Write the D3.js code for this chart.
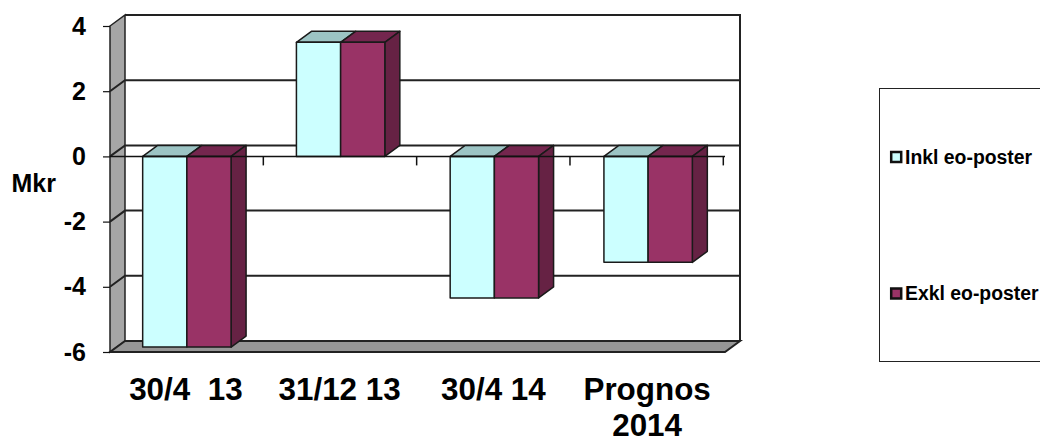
<!DOCTYPE html>
<html>
<head>
<meta charset="UTF-8">
<title>Mkr</title>
<script src="https://d3js.org/d3.v7.min.js"></script>
<style>
    body { margin: 0; background: #fff; }
    svg { display: block; }
    text { font-family: "Liberation Sans", Arial, sans-serif; font-weight: bold; fill: #000; }
</style>
</head>
<body>
<svg id="chart" width="1040" height="440"></svg>
<script>
// data
const categories = ["30/4  13", "31/12 13", "30/4 14", "Prognos 2014"];
const seriesNames = ["Inkl eo-poster", "Exkl eo-poster"];
const inkl = [-5.85, 3.5, -4.34, -3.25];
const exkl = [-5.85, 3.5, -4.34, -3.25];
const yTicks = [4, 2, 0, -2, -4, -6];

// colours per series: front, top, side
const fronts = ["#ccffff", "#993366"];
const tops = ["#9cc4c4", "#74264e"];
const sides = ["#9cc4c4", "#662244"];

const svg = d3.select("#chart");

// the 3d box is offset up and to the right
const depthX = 15, depthY = -11;
const left = 110, right = 725, lineCol = "#222";

const x = d3.scaleBand().domain(categories).range([left, right]).paddingInner(0.425).paddingOuter(0.2125);
const xs = d3.scaleBand().domain(seriesNames).range([0, x.bandwidth()]);
const y = d3.scaleLinear().domain([-6, 4]).range([352, 26]);
const xTick = d3.scaleLinear().domain([0, categories.length]).range([left, 723.3]);

const pts = a => a.map(p => p.join(",")).join(" ");

// left wall
svg.append("polygon")
    .attr("points", pts([[left, y(4)], [left + depthX, y(4) + depthY], [left + depthX, y(-6) + depthY], [left, y(-6)]]))
    .attr("fill", "#a6a6a6").attr("stroke", lineCol).attr("stroke-width", 1.5);

// floor
svg.append("polygon")
    .attr("points", pts([[left, y(-6)], [right, y(-6)], [right + depthX, y(-6) + depthY], [left + depthX, y(-6) + depthY]]))
    .attr("fill", "#969696").attr("stroke", lineCol).attr("stroke-width", 2);

// back wall frame and gridlines
svg.append("path")
    .attr("d", `M${left + depthX},${y(4) + depthY}H${right + depthX}V${y(-6) + depthY}`)
    .attr("fill", "none").attr("stroke", lineCol).attr("stroke-width", 2);

svg.selectAll(".grid").data(yTicks.filter(d => d > -6 && d < 4)).join("path")
    .attr("class", "grid")
    .attr("d", d => `M${left},${y(d)}L${left + depthX},${y(d) + depthY}H${right + depthX}`)
    .attr("fill", "none").attr("stroke", lineCol).attr("stroke-width", 2);

// bars
const rows = categories.flatMap((c, i) => [
    { cat: c, s: 0, name: seriesNames[0], v: inkl[i] },
    { cat: c, s: 1, name: seriesNames[1], v: exkl[i] }
]);

const bars = svg.selectAll(".bar").data(rows).join("g").attr("class", "bar")
    .attr("stroke", "#1a1a1a").attr("stroke-width", 1.5).attr("stroke-linejoin", "round");

const bx = d => x(d.cat) + xs(d.name);
const bw = xs.bandwidth();
const yTop = d => y(Math.max(0, d.v));
const yBot = d => y(Math.min(0, d.v));

bars.append("polygon") // top
    .attr("fill", d => tops[d.s])
    .attr("points", d => pts([[bx(d), yTop(d)], [bx(d) + bw, yTop(d)], [bx(d) + bw + depthX, yTop(d) + depthY], [bx(d) + depthX, yTop(d) + depthY]]));
bars.filter(d => d.s === 1).append("polygon") // side
    .attr("fill", d => sides[d.s])
    .attr("points", d => pts([[bx(d) + bw, yTop(d)], [bx(d) + bw + depthX, yTop(d) + depthY], [bx(d) + bw + depthX, yBot(d) + depthY], [bx(d) + bw, yBot(d)]]));
bars.append("rect") // front
    .attr("fill", d => fronts[d.s])
    .attr("x", bx).attr("y", yTop).attr("width", bw).attr("height", d => yBot(d) - yTop(d));

// zero line with ticks between the categories
svg.append("line")
    .attr("x1", left).attr("x2", right).attr("y1", y(0)).attr("y2", y(0))
    .attr("stroke", "#111").attr("stroke-width", 1.5);
svg.selectAll(".xtick").data(categories).join("line")
    .attr("class", "xtick")
    .attr("x1", (d, i) => xTick(i + 1))
    .attr("x2", (d, i) => xTick(i + 1))
    .attr("y1", y(0)).attr("y2", y(0) + 9)
    .attr("stroke", "#111").attr("stroke-width", 1.5);

// y axis
const yAxis = svg.append("g")
    .attr("transform", `translate(${left},0)`)
    .call(d3.axisLeft(y).tickValues(yTicks).tickSize(7).tickPadding(17).tickFormat(d3.format("d")));
yAxis.select(".domain").remove();
yAxis.selectAll("line").attr("stroke", "#111").attr("stroke-width", 1.2);
yAxis.selectAll("text").attr("font-size", 25).attr("font-family", null)
    .text(d => String(d));

// y axis title
svg.append("text").attr("x", 11.5).attr("y", 191.5).attr("font-size", 25).text("Mkr");

// category labels, the last one wraps onto two lines
svg.selectAll(".cat").data(categories).join("text")
    .attr("class", "cat")
    .attr("text-anchor", "middle")
    .attr("font-size", 31.4)
    .attr("y", 400)
    .style("white-space", "pre")
    .each(function (d) {
        const cx = x(d) + x.bandwidth() / 2 - 1;
        const lines = d.startsWith("Prognos") ? d.split(" ") : [d];
        d3.select(this).selectAll("tspan").data(lines).join("tspan")
            .attr("x", cx)
            .attr("dy", (l, i) => i ? 36 : 0)
            .text(l => l);
    });

// legend
svg.append("rect")
    .attr("x", 879.5).attr("y", 88.5).attr("width", 180).attr("height", 273)
    .attr("fill", "#fff").attr("stroke", "#222").attr("stroke-width", 1);

const legendY = d3.scalePoint().domain(seriesNames).range([157, 293.5]);
const legend = svg.selectAll(".leg").data(seriesNames).join("g").attr("class", "leg");
legend.append("rect")
    .attr("x", 891.2).attr("y", d => legendY(d) - 5).attr("width", 10).attr("height", 10)
    .attr("fill", (d, i) => fronts[i]).attr("stroke", "#111").attr("stroke-width", 2.5);
legend.append("text")
    .attr("x", 905).attr("y", d => legendY(d) + 6.5)
    .attr("font-size", 19.4)
    .text(d => d);
</script>
</body>
</html>
